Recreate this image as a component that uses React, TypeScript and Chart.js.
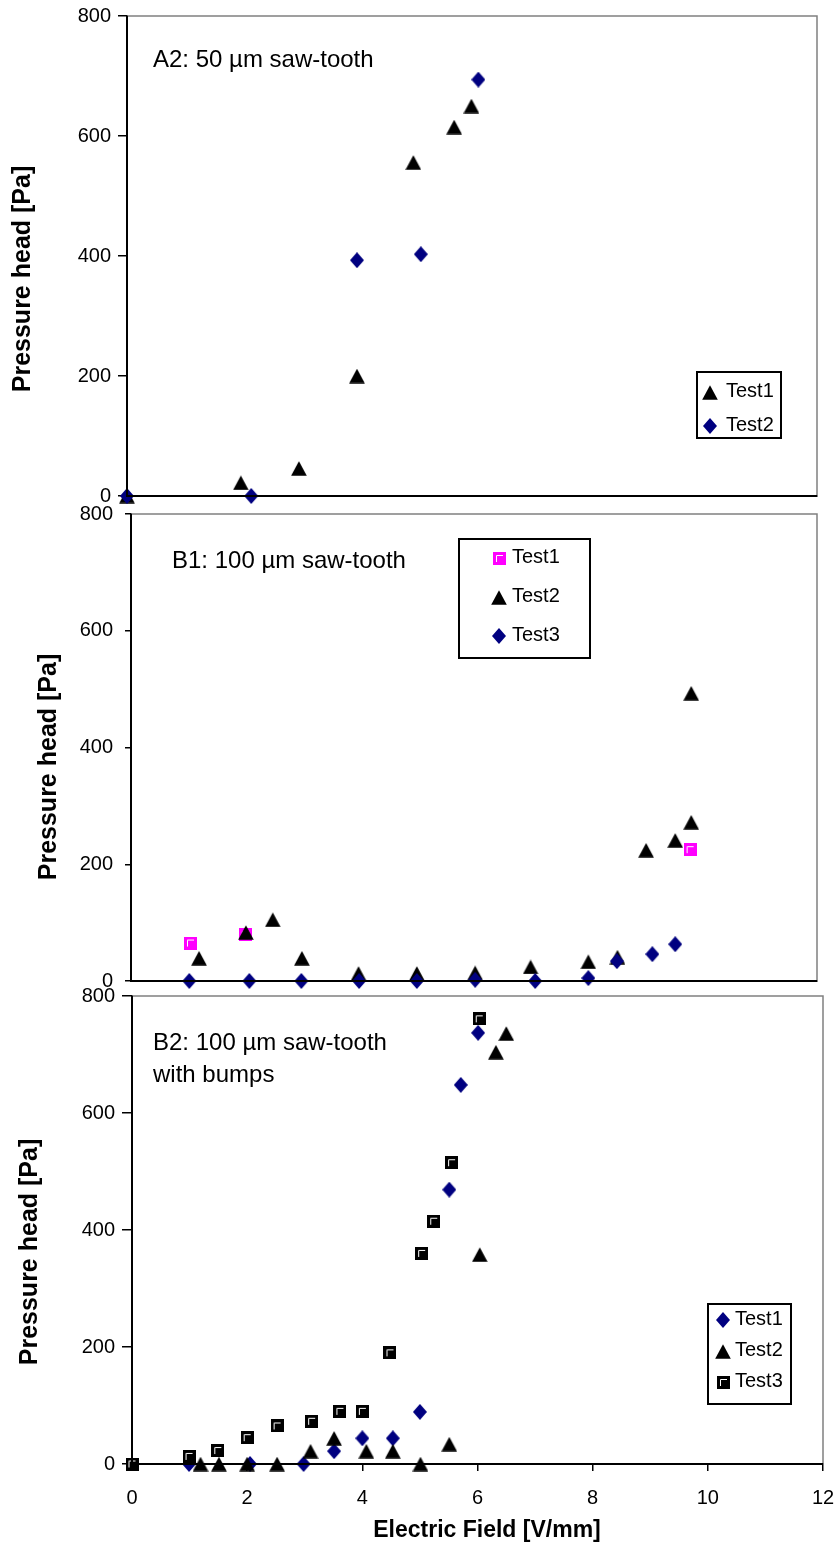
import React, { useEffect, useRef } from 'react';
import { Chart, registerables } from 'chart.js';

Chart.register(...registerables);

const W = 837;
const H = 1553;
const FONT = "'Liberation Sans', Arial, Helvetica, sans-serif";

// ---------------- Data ----------------
const seriesLabels2 = ['Test1', 'Test2'];
const seriesLabels3 = ['Test1', 'Test2', 'Test3'];
const xTickLabelsShown = true;

// Panel A2: 50 µm saw-tooth
const a2Test1X = [0, 1.98, 2.99, 4.0, 4.98, 5.69, 5.99];
const a2Test1Y = [0, 22, 46, 200, 556, 615, 650];
const a2Test2X = [0, 2.16, 4.0, 5.11, 6.11];
const a2Test2Y = [0, 0, 393, 403, 694];

// Panel B1: 100 µm saw-tooth
const b1Test1X = [1.04, 2.0, 9.78];
const b1Test1Y = [65, 79, 225];
const b1Test2X = [1.19, 2.01, 2.48, 2.99, 3.98, 5.0, 6.02, 6.99, 8.0, 8.51, 9.01, 9.52, 9.8, 9.8];
const b1Test2Y = [39, 83, 105, 39, 13, 13, 14, 24, 33, 41, 224, 241, 272, 493];
const b1Test3X = [1.02, 2.07, 2.98, 3.99, 5.0, 6.02, 7.07, 8.0, 8.5, 9.12, 9.52];
const b1Test3Y = [0, 0, 0, 0, 0, 2, 0, 5, 34, 46, 63];

// Panel B2: 100 µm saw-tooth with bumps
const b2Test1X = [0.99, 2.05, 2.98, 3.51, 4.0, 4.53, 5.0, 5.51, 5.71, 6.01];
const b2Test1Y = [0, 0, 0, 22, 44, 44, 89, 469, 648, 737];
const b2Test2X = [1.19, 1.51, 2.0, 2.52, 3.1, 3.51, 4.07, 4.53, 5.01, 5.51, 6.04, 6.32, 6.5];
const b2Test2Y = [0, 0, 0, 0, 22, 44, 22, 22, 0, 34, 358, 704, 736];
const b2Test3X = [0, 0.99, 1.49, 2.0, 2.52, 3.12, 3.61, 4.0, 4.48, 5.03, 5.24, 5.55, 6.03];
const b2Test3Y = [0, 13, 23, 45, 65, 73, 90, 90, 190, 360, 415, 515, 761];

const xMin = 0;
const xMax = 12;
const xStep = 2;
const yMin = 0;
const yMax = 800;
const yStep = 200;

const yTitle = 'Pressure head [Pa]';
const xTitle = 'Electric Field [V/mm]';
const noteA2 = ['A2: 50 µm saw-tooth'];
const noteB1 = ['B1: 100 µm saw-tooth'];
const noteB2 = ['B2: 100 µm saw-tooth', 'with bumps'];

// ---------------- Markers ----------------
type MarkerKind = 'triangle' | 'diamond' | 'square';
const markerCache: Record<string, HTMLCanvasElement> = {};
function marker(kind: MarkerKind, color: string): HTMLCanvasElement {
  const key = kind + color;
  if (markerCache[key]) return markerCache[key];
  const c = document.createElement('canvas');
  const ctx = c.getContext('2d')!;
  if (kind === 'triangle') {
    c.width = 16; c.height = 15;
    ctx.fillStyle = color;
    ctx.beginPath();
    ctx.moveTo(8, 0.3);
    ctx.lineTo(15.8, 14.8);
    ctx.lineTo(0.2, 14.8);
    ctx.closePath();
    ctx.fill();
  } else if (kind === 'diamond') {
    c.width = 14; c.height = 16;
    ctx.fillStyle = color;
    ctx.beginPath();
    ctx.moveTo(7, 0);
    ctx.lineTo(14, 8);
    ctx.lineTo(7, 16);
    ctx.lineTo(0, 8);
    ctx.closePath();
    ctx.fill();
  } else {
    c.width = 13; c.height = 13;
    ctx.fillStyle = color;
    ctx.fillRect(0, 0, 13, 13);
    ctx.strokeStyle = '#ffffff';
    ctx.lineWidth = 1;
    ctx.beginPath();
    ctx.moveTo(3.5, 10);
    ctx.lineTo(3.5, 3.5);
    ctx.lineTo(10, 3.5);
    ctx.stroke();
  }
  markerCache[key] = c;
  return c;
}

interface SeriesDef { label: string; xs: number[]; ys: number[]; kind: MarkerKind; color: string }
interface PanelDef {
  area: { l: number; t: number; r: number; b: number };
  series: SeriesDef[];
  note: string[];
  noteX: number; noteY: number; noteLH: number;
  legend: { l: number; t: number; r: number; b: number; y0: number; step: number; mx: number; tx: number };
  yTitleX: number; yTitleY: number;
  yTickLen: number; yTickPad: number;
  showXTicks: boolean;
}

const NAVY = '#000080';
const MAGENTA = '#ff00ff';

const PANELS: PanelDef[] = [
  {
    area: { l: 127, t: 16, r: 817, b: 496 },
    series: [
      { label: seriesLabels2[0], xs: a2Test1X, ys: a2Test1Y, kind: 'triangle', color: '#000000' },
      { label: seriesLabels2[1], xs: a2Test2X, ys: a2Test2Y, kind: 'diamond', color: NAVY },
    ],
    note: noteA2, noteX: 153, noteY: 67, noteLH: 32,
    legend: { l: 697, t: 372, r: 781, b: 438, y0: 391, step: 34, mx: 710, tx: 726 },
    yTitleX: 23, yTitleY: 279,
    yTickLen: 9, yTickPad: 7,
    showXTicks: false,
  },
  {
    area: { l: 131, t: 514, r: 817, b: 981 },
    series: [
      { label: seriesLabels3[0], xs: b1Test1X, ys: b1Test1Y, kind: 'square', color: MAGENTA },
      { label: seriesLabels3[1], xs: b1Test2X, ys: b1Test2Y, kind: 'triangle', color: '#000000' },
      { label: seriesLabels3[2], xs: b1Test3X, ys: b1Test3Y, kind: 'diamond', color: NAVY },
    ],
    note: noteB1, noteX: 172, noteY: 568, noteLH: 32,
    legend: { l: 459, t: 539, r: 590, b: 658, y0: 557, step: 39, mx: 499, tx: 512 },
    yTitleX: 49, yTitleY: 767,
    yTickLen: 6, yTickPad: 12,
    showXTicks: false,
  },
  {
    area: { l: 132, t: 996, r: 823, b: 1464 },
    series: [
      { label: seriesLabels3[0], xs: b2Test1X, ys: b2Test1Y, kind: 'diamond', color: NAVY },
      { label: seriesLabels3[1], xs: b2Test2X, ys: b2Test2Y, kind: 'triangle', color: '#000000' },
      { label: seriesLabels3[2], xs: b2Test3X, ys: b2Test3Y, kind: 'square', color: '#000000' },
    ],
    note: noteB2, noteX: 153, noteY: 1050, noteLH: 32,
    legend: { l: 708, t: 1304, r: 791, b: 1404, y0: 1319, step: 31, mx: 723, tx: 735 },
    yTitleX: 30, yTitleY: 1252,
    yTickLen: 10, yTickPad: 7,
    showXTicks: xTickLabelsShown,
  },
];

function Panel({ def }: { def: PanelDef }) {
  const ref = useRef<HTMLCanvasElement>(null);
  useEffect(() => {
    const { area } = def;
    const datasets = def.series.map((s, i) => ({
      label: s.label,
      data: s.xs.map((x, j) => ({ x, y: s.ys[j] })),
      pointStyle: marker(s.kind, s.color) as any,
      pointRadius: 8,
      showLine: false,
      clip: false as any,
      order: -i,
    }));

    const decor = {
      id: 'decor',
      afterDraw(chart: any) {
        const ctx = chart.ctx as CanvasRenderingContext2D;
        const ca = chart.chartArea;
        ctx.save();
        // plot frame (top & right)
        ctx.strokeStyle = '#808080';
        ctx.lineWidth = 1.5;
        ctx.beginPath();
        ctx.moveTo(ca.left, ca.top);
        ctx.lineTo(ca.right, ca.top);
        ctx.lineTo(ca.right, ca.bottom);
        ctx.stroke();
        // redraw black axes on top
        ctx.strokeStyle = '#000';
        ctx.lineWidth = 2;
        ctx.beginPath();
        ctx.moveTo(ca.left, ca.top);
        ctx.lineTo(ca.left, ca.bottom);
        ctx.lineTo(ca.right, ca.bottom);
        ctx.stroke();

        // annotation
        ctx.fillStyle = '#000';
        ctx.font = `24px ${FONT}`;
        ctx.textAlign = 'left';
        ctx.textBaseline = 'alphabetic';
        def.note.forEach((line, i) => ctx.fillText(line, def.noteX, def.noteY + i * def.noteLH));

        // y title
        ctx.save();
        ctx.translate(def.yTitleX, def.yTitleY);
        ctx.rotate(-Math.PI / 2);
        ctx.font = `bold 25px ${FONT}`;
        ctx.textAlign = 'center';
        ctx.textBaseline = 'middle';
        ctx.fillText(yTitle, 0, 0);
        ctx.restore();

        // x title
        if (def.showXTicks) {
          ctx.font = `bold 23px ${FONT}`;
          ctx.textAlign = 'center';
          ctx.textBaseline = 'middle';
          ctx.fillText(xTitle, 487, 1531);
        }

        // legend
        const lg = def.legend;
        ctx.fillStyle = '#fff';
        ctx.fillRect(lg.l, lg.t, lg.r - lg.l, lg.b - lg.t);
        ctx.strokeStyle = '#000';
        ctx.lineWidth = 2;
        ctx.strokeRect(lg.l, lg.t, lg.r - lg.l, lg.b - lg.t);
        ctx.font = `20px ${FONT}`;
        ctx.textAlign = 'left';
        ctx.textBaseline = 'middle';
        ctx.fillStyle = '#000';
        chart.data.datasets.forEach((ds: any, i: number) => {
          const y = lg.y0 + i * lg.step;
          const img = ds.pointStyle as HTMLCanvasElement;
          ctx.drawImage(img, Math.round(lg.mx - img.width / 2), Math.round(y + 1 - img.height / 2));
          ctx.fillText(ds.label, lg.tx, y);
        });
        ctx.restore();
      },
    };

    const chart = new Chart(ref.current!, {
      type: 'scatter',
      data: { datasets },
      options: {
        responsive: false,
        animation: false,
        devicePixelRatio: 1,
        events: [],
        layout: { padding: { left: 0, top: area.t, right: W - area.r, bottom: 0 } },
        plugins: { legend: { display: false }, tooltip: { enabled: false } },
        scales: {
          x: {
            type: 'linear',
            min: xMin,
            max: xMax,
            position: 'bottom',
            grid: {
              display: def.showXTicks,
              drawOnChartArea: false,
              drawTicks: true,
              tickLength: 7,
              color: '#000',
              lineWidth: 1.5,
            },
            border: { display: true, color: '#000', width: 2 },
            ticks: {
              display: def.showXTicks,
              stepSize: xStep,
              padding: 15,
              color: '#000',
              font: { family: FONT, size: 20 },
              maxRotation: 0,
            },
            afterFit: (s: any) => {
              s.height = H - area.b;
              s.paddingLeft = 0;
              s.paddingRight = 0;
            },
          },
          y: {
            type: 'linear',
            min: yMin,
            max: yMax,
            position: 'left',
            grid: {
              drawOnChartArea: false,
              drawTicks: true,
              tickLength: def.yTickLen,
              color: '#000',
              lineWidth: 1.5,
            },
            border: { display: true, color: '#000', width: 2 },
            ticks: {
              stepSize: yStep,
              padding: def.yTickPad,
              color: '#000',
              font: { family: FONT, size: 20 },
            },
            afterFit: (s: any) => {
              s.width = area.l;
              s.paddingTop = 0;
              s.paddingBottom = 0;
            },
          },
        },
      },
      plugins: [decor],
    } as any);
    return () => chart.destroy();
  }, [def]);
  return (
    <canvas
      ref={ref}
      width={W}
      height={H}
      style={{ position: 'absolute', left: 0, top: 0, width: W, height: H }}
    />
  );
}

export default function App() {
  return (
    <div style={{ position: 'absolute', left: 0, top: 0, width: W, height: H, background: '#fff' }}>
      {PANELS.map((p, i) => (
        <Panel key={i} def={p} />
      ))}
    </div>
  );
}
